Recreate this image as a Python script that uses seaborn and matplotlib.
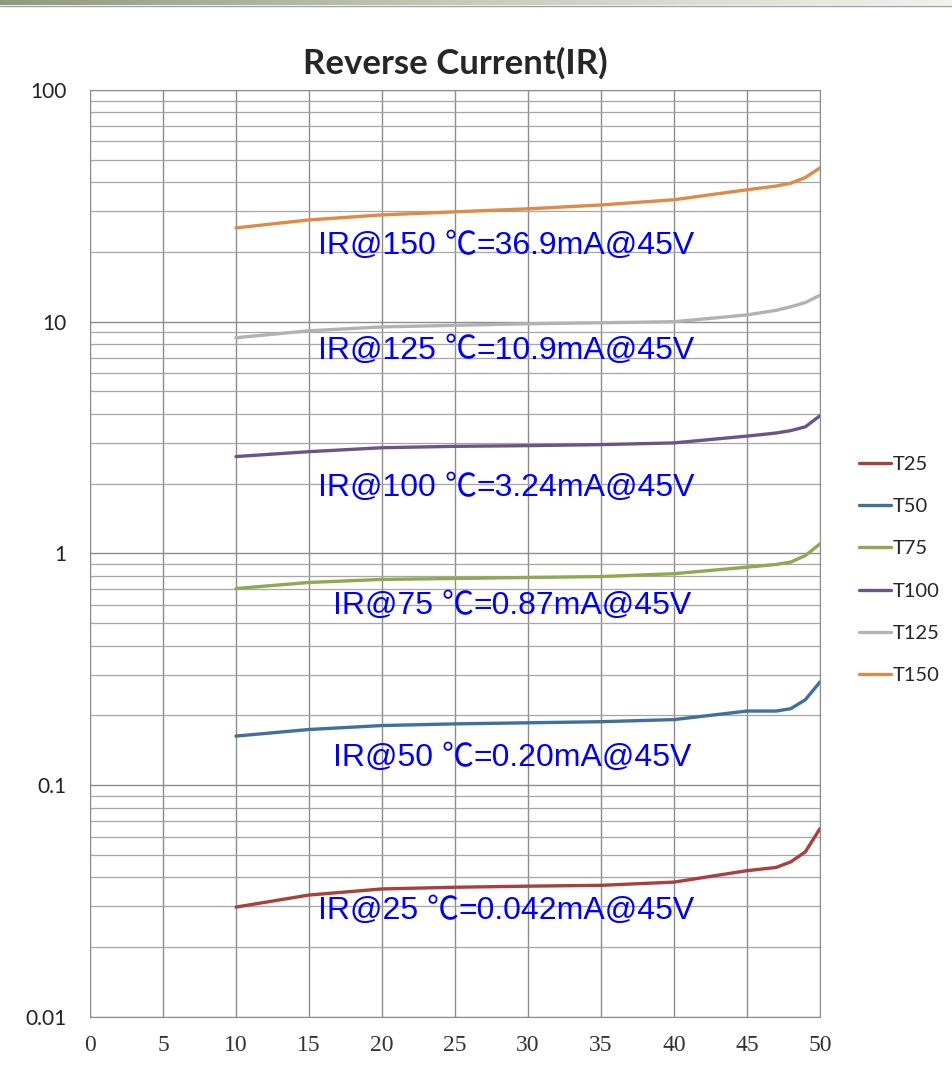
import numpy as np
import pandas as pd
import matplotlib.pyplot as plt
import seaborn as sns

# data (reverse voltage V vs reverse current mA)
voltage = [10, 15, 20, 25, 30, 35, 40, 45, 47, 48, 49, 50]
t25 = [0.0298, 0.0336, 0.0357, 0.0363, 0.0367, 0.0370, 0.0382, 0.0428, 0.0442, 0.0467, 0.0516, 0.0650]
t50 = [0.163, 0.174, 0.181, 0.184, 0.186, 0.188, 0.192, 0.209, 0.209, 0.214, 0.234, 0.279]
t75 = [0.706, 0.750, 0.773, 0.780, 0.788, 0.795, 0.818, 0.873, 0.897, 0.918, 0.980, 1.10]
t100 = [2.62, 2.75, 2.86, 2.90, 2.92, 2.95, 3.00, 3.21, 3.31, 3.39, 3.52, 3.93]
t125 = [8.53, 9.14, 9.50, 9.65, 9.80, 9.90, 10.0, 10.7, 11.2, 11.6, 12.1, 13.0]
t150 = [25.4, 27.5, 28.9, 29.8, 30.7, 31.9, 33.6, 37.1, 38.5, 39.6, 41.9, 46.1]

series_names = ["T25", "T50", "T75", "T100", "T125", "T150"]
series_vals = [t25, t50, t75, t100, t125, t150]
colors = ["#A8403D", "#41709F", "#8DAA4F", "#6A5586", "#B2B2B2", "#DD8B47"]

# annotation pieces: (before ℃, after ℃)
notes = [
    ("IR@150 ", "=36.9mA@45V"),
    ("IR@125 ", "=10.9mA@45V"),
    ("IR@100 ", "=3.24mA@45V"),
    ("IR@75 ", "=0.87mA@45V"),
    ("IR@50 ", "=0.20mA@45V"),
    ("IR@25 ", "=0.042mA@45V"),
]
# note anchor in axes fraction (left, middle)
note_pos = [(0.312, 0.832), (0.312, 0.719), (0.312, 0.571),
            (0.333, 0.443), (0.333, 0.279), (0.312, 0.114)]

rows = []
for name, vals in zip(series_names, series_vals):
    for v, i in zip(voltage, vals):
        rows.append({"V": v, "IR": i, "series": name})
df = pd.DataFrame(rows)

sns.set_style("white")
fig = plt.figure(figsize=(9.53, 10.71), dpi=100)
ax = fig.add_axes([0.0944, 0.0504, 0.766, 0.8656])

# thin gradient band at the very top
band = fig.add_axes([0, 1 - 5 / 1071, 1, 5 / 1071])
grad = np.linspace(0, 1, 256).reshape(1, -1)
band.imshow(grad, aspect="auto", cmap=sns.blend_palette(["#8E9A80", "#C8CCB8", "#F2F2EC"], as_cmap=True))
band.axis("off")
fig.add_artist(plt.Line2D([0, 1], [1 - 6 / 1071, 1 - 6 / 1071], color="#A0A0A0", lw=1))

sns.lineplot(data=df, x="V", y="IR", hue="series", palette=colors,
             hue_order=series_names, linewidth=2.4, ax=ax, legend=True)

ax.set_yscale("log")
ax.set_ylim(0.01, 100)
ax.set_xlim(0, 50)
ax.set_xticks(range(0, 51, 5))
ax.set_yticks([0.01, 0.1, 1, 10, 100])
ax.set_yticklabels(["0.01", "0.1", "1", "10", "100"])
ax.yaxis.set_minor_locator(plt.matplotlib.ticker.LogLocator(base=10, subs=range(2, 10)))
ax.yaxis.set_minor_formatter(plt.NullFormatter())
ax.grid(True, which="major", color="#8C8C8C", lw=1)
ax.grid(True, which="minor", axis="y", color="#A6A6A6", lw=0.9)
ax.set_axisbelow(True)
for s in ax.spines.values():
    s.set_color("#8C8C8C")
ax.tick_params(axis="y", which="major", direction="out", length=7, color="#8C8C8C",
               labelsize=15, pad=10)
ax.tick_params(axis="y", which="minor", length=0)
ax.tick_params(axis="x", direction="out", length=6, color="#8C8C8C", labelsize=17, pad=7)
for lab in ax.get_yticklabels():
    lab.set_family("Lato")
    lab.set_color("#222222")
for lab in ax.get_xticklabels():
    lab.set_family("Liberation Serif")
    lab.set_color("#333333")
ax.set_xlabel("")
ax.set_ylabel("")

ax.set_title("Reverse Current(IR)", fontsize=25, fontweight="bold", family="Lato", pad=12)

for (pre, post), (px, py) in zip(notes, note_pos):
    t1 = ax.text(px, py, pre, transform=ax.transAxes, color="#0000FF", fontsize=23,
                 family="Liberation Sans", va="center", ha="left")
    t2 = ax.annotate("℃", xy=(1, 0), xycoords=t1, va="bottom", ha="left",
                     color="#0000FF", fontsize=23, family="Noto Sans CJK TC",
                     fontweight="light")
    ax.annotate(post, xy=(1, 0), xycoords=t2, va="bottom", ha="left",
                color="#0000FF", fontsize=23, family="Liberation Sans")

leg = ax.legend(loc="upper left", bbox_to_anchor=(1.028, 0.625), frameon=False,
                handlelength=1.6, handletextpad=0.1, labelspacing=1.25,
                prop={"family": "Lato", "size": 14.5})

fig.savefig("out.png", dpi=100)
